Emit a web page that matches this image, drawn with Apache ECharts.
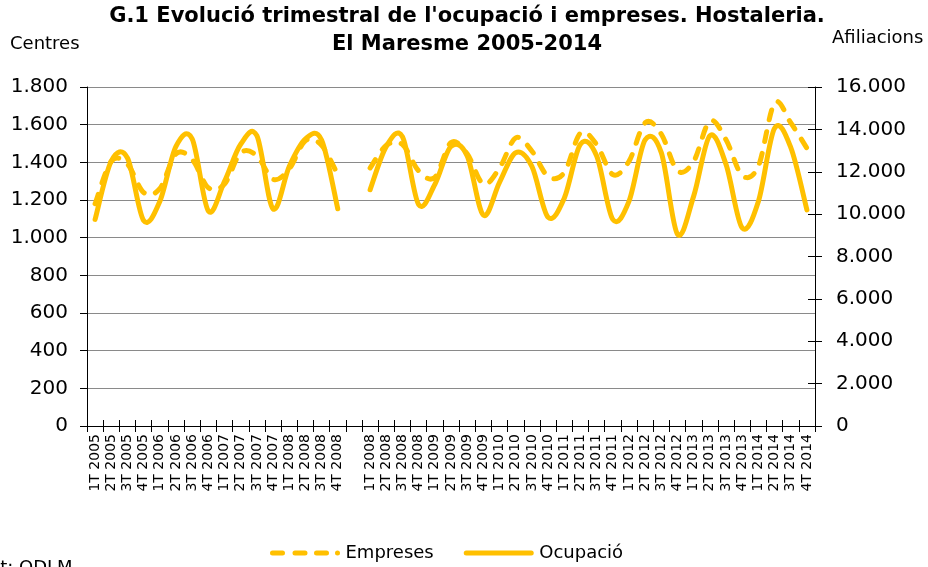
<!DOCTYPE html>
<html>
<head>
<meta charset="utf-8">
<script src="https://cdn.jsdelivr.net/npm/echarts@6/dist/echarts.min.js"></script>
<style>
html,body{margin:0;padding:0;background:#fff;}
#chart{width:928px;height:567px;}
</style>
</head>
<body>
<div id="chart"></div>
<script>
const categories = [
  '1T 2005','2T 2005','3T 2005','4T 2005',
  '1T 2006','2T 2006','3T 2006','4T 2006',
  '1T 2007','2T 2007','3T 2007','4T 2007',
  '1T 2008','2T 2008','3T 2008','4T 2008',
  '',
  '1T 2008','2T 2008','3T 2008','4T 2008',
  '1T 2009','2T 2009','3T 2009','4T 2009',
  '1T 2010','2T 2010','3T 2010','4T 2010',
  '1T 2011','2T 2011','3T 2011','4T 2011',
  '1T 2012','2T 2012','3T 2012','4T 2012',
  '1T 2013','2T 2013','3T 2013','4T 2013',
  '1T 2014','2T 2014','3T 2014','4T 2014'
];
// Centres (left axis)
const empreses = [
  1180,1405,1390,1240,
  1260,1445,1415,1265,
  1285,1450,1435,1310,
  1365,1515,1490,1335,
  null,
  1370,1490,1495,1355,
  1320,1505,1445,1285,
  1370,1530,1460,1325,
  1345,1555,1495,1335,
  1405,1610,1550,1355,
  1405,1620,1520,1330,
  1380,1715,1610,1475
];
// Afiliacions (right axis)
const ocupacio = [
  9750,12500,12650,9700,
  10600,13200,13550,10150,
  11550,13300,13700,10250,
  12250,13550,13500,10250,
  null,
  11150,13200,13650,10450,
  11400,13200,12750,9950,
  11500,12900,12250,9850,
  10750,13300,12750,9750,
  10600,13500,12900,9050,
  10850,13700,12350,9350,
  10600,14050,13150,10200
];
const leftTicks = {min: 0, max: 1800, interval: 200};
const rightTicks = {min: 0, max: 16000, interval: 2000};
const seriesNames = ['Empreses', 'Ocupació'];

const fmt = v => String(v).replace(/\B(?=(\d{3})+(?!\d))/g, '.');
const FONT = 'DejaVu Sans';
const GOLD = '#FFC000';

// Smoothed path (Catmull-Rom style, like the spreadsheet's smoothed lines),
// computed in pixel space from the library's own coordinate conversion.
function smoothPath(api, values) {
  let d = '';
  let run = [];
  const flush = () => {
    if (run.length === 0) return;
    d += 'M' + run[0][0] + ',' + run[0][1];
    for (let k = 0; k < run.length - 1; k++) {
      const p0 = run[k - 1] || run[k];
      const p1 = run[k];
      const p2 = run[k + 1];
      const p3 = run[k + 2] || run[k + 1];
      const c1x = p1[0] + (p2[0] - p0[0]) / 6, c1y = p1[1] + (p2[1] - p0[1]) / 6;
      const c2x = p2[0] - (p3[0] - p1[0]) / 6, c2y = p2[1] - (p3[1] - p1[1]) / 6;
      d += 'C' + c1x + ',' + c1y + ',' + c2x + ',' + c2y + ',' + p2[0] + ',' + p2[1];
    }
    run = [];
  };
  values.forEach((v, i) => {
    if (v == null) { flush(); return; }
    run.push(api.coord([i, v]));
  });
  flush();
  return d;
}

function makeSeries(name, values, yIdx, dash) {
  return {
    name: name, type: 'custom', xAxisIndex: 0, yAxisIndex: yIdx,
    data: values.map((v, i) => [i, v]),
    encode: {x: 0, y: 1},
    itemStyle: {color: GOLD},
    renderItem: function (params, api) {
      if (params.dataIndex !== 0) return null;
      return {
        type: 'path',
        shape: {pathData: smoothPath(api, values)},
        style: {stroke: GOLD, fill: null, lineWidth: 5, lineDash: dash, lineCap: 'round', lineJoin: 'round'}
      };
    }
  };
}

const dashIcon = 'path://M2.5,0h10a2.5,2.5 0 0 1 0,5h-10a2.5,2.5 0 0 1 0,-5z' +
  'M25,0h10a2.5,2.5 0 0 1 0,5h-10a2.5,2.5 0 0 1 0,-5z' +
  'M46.5,0h10a2.5,2.5 0 0 1 0,5h-10a2.5,2.5 0 0 1 0,-5z' +
  'M67.5,0a2.5,2.5 0 0 1 0,5a2.5,2.5 0 0 1 0,-5z';
const solidIcon = 'path://M2.5,0h65a2.5,2.5 0 0 1 0,5h-65a2.5,2.5 0 0 1 0,-5z';

const chart = echarts.init(document.getElementById('chart'));
chart.setOption({
  backgroundColor: '#fff',
  animation: false,
  title: {
    text: "G.1 Evolució trimestral de l'ocupació i empreses. Hostaleria.\nEl Maresme 2005-2014",
    left: 467,
    textAlign: 'center',
    top: 3,
    padding: 0,
    textStyle: {fontFamily: FONT, fontWeight: 'bold', fontSize: 21, color: '#000', lineHeight: 28}
  },
  graphic: [
    {type: 'text', left: 10, top: 35, style: {text: 'Centres', font: '18px "DejaVu Sans"', fill: '#000'}},
    {type: 'text', left: 832, top: 29, style: {text: 'Afiliacions', font: '18px "DejaVu Sans"', fill: '#000'}},
    {type: 'text', left: -32, top: 559, style: {text: 'Font: ODLM', font: '18px "DejaVu Sans"', fill: '#000'}}
  ],
  legend: {
    data: [{name: seriesNames[0], icon: dashIcon}, {name: seriesNames[1], icon: solidIcon}],
    left: 265,
    top: 539,
    itemWidth: 71,
    itemHeight: 5,
    itemGap: 30,
    textStyle: {fontFamily: FONT, fontSize: 18, color: '#000'}
  },
  grid: {left: 87, right: 113, top: 87, bottom: 141, containLabel: false},
  xAxis: [
    {
      type: 'category', data: categories, boundaryGap: true, position: 'bottom',
      axisLine: {show: true, lineStyle: {color: '#000', width: 1}},
      axisTick: {show: true, interval: 0, length: 6, lineStyle: {color: '#000'}},
      axisLabel: {interval: 0, rotate: 90, fontFamily: FONT, fontSize: 14, color: '#000', margin: 8},
      splitLine: {show: false}
    },
    {
      type: 'category', data: categories, boundaryGap: true, position: 'bottom',
      axisLine: {show: false},
      axisTick: {show: true, inside: true, interval: 0, length: 6, lineStyle: {color: '#000'}},
      axisLabel: {show: false},
      splitLine: {show: false}
    }
  ],
  yAxis: [
    {
      type: 'value', position: 'left', min: leftTicks.min, max: leftTicks.max, interval: leftTicks.interval,
      axisLine: {show: true, lineStyle: {color: '#000'}},
      axisTick: {show: true, length: 7, lineStyle: {color: '#000'}},
      axisLabel: {formatter: fmt, fontFamily: FONT, fontSize: 20, color: '#000', margin: 19},
      splitLine: {show: true, lineStyle: {color: '#8a8a8a', width: 1}}
    },
    {
      type: 'value', position: 'right', min: rightTicks.min, max: rightTicks.max, interval: rightTicks.interval,
      axisLine: {show: true, lineStyle: {color: '#000'}},
      axisTick: {show: true, length: 7, lineStyle: {color: '#000'}},
      axisLabel: {formatter: fmt, fontFamily: FONT, fontSize: 20, color: '#000', margin: 21},
      splitLine: {show: false}
    },
    {
      type: 'value', position: 'right', min: rightTicks.min, max: rightTicks.max, interval: rightTicks.interval,
      axisLine: {show: false},
      axisTick: {show: true, inside: true, length: 7, lineStyle: {color: '#000'}},
      axisLabel: {show: false},
      splitLine: {show: false}
    }
  ],
  series: [
    makeSeries(seriesNames[0], empreses, 0, [10, 12]),
    makeSeries(seriesNames[1], ocupacio, 1, null)
  ]
});
</script>
</body>
</html>
